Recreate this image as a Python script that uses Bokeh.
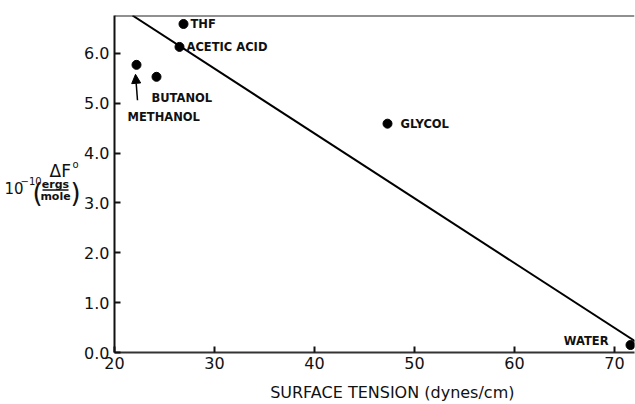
from bokeh.plotting import figure
from bokeh.layouts import row
from bokeh.models import Label, Arrow, NormalHead, Span, Range1d, NumeralTickFormatter, FixedTicker
from bokeh.core.properties import value
from bokeh.embed import file_html
from bokeh.resources import INLINE

# ---- data ----
solvents = ["THF", "ACETIC ACID", "METHANOL", "BUTANOL", "GLYCOL", "WATER"]
surface_tension = [26.9, 26.5, 22.2, 24.2, 47.3, 71.6]
delta_f = [6.59, 6.13, 5.77, 5.53, 4.59, 0.15]
fit_x = [21.8, 72.1]
fit_y = [6.76, 0.22]
x_ticks = [20, 30, 40, 50, 60, 70]
y_ticks = [0, 1, 2, 3, 4, 5, 6]
x_min, x_max = 20, 72.0
y_min, y_max = 0, 6.76
x_title = "SURFACE TENSION (dynes/cm)"

FONT = "DejaVu Sans"
INK = "#111111"
TOP, BOTTOM = 15, 51

# ---------------- main plot ----------------
p = figure(width=554, height=404, output_backend="svg", toolbar_location=None,
           x_range=Range1d(x_min, x_max), y_range=Range1d(y_min, y_max),
           min_border_left=33, min_border_right=1, min_border_top=TOP, min_border_bottom=BOTTOM)
p.outline_line_color = None
p.grid.visible = False

for ax in (p.xaxis[0], p.yaxis[0]):
    ax.axis_line_color = INK
    ax.axis_line_width = 2
    ax.major_tick_in = 6
    ax.major_tick_out = 0
    ax.major_tick_line_width = 2
    ax.major_tick_line_color = INK
    ax.minor_tick_line_color = None
    ax.major_label_text_font = FONT
    ax.major_label_text_font_size = "16px"
    ax.major_label_text_color = INK

p.xaxis[0].ticker = FixedTicker(ticks=x_ticks)
p.yaxis[0].ticker = FixedTicker(ticks=y_ticks)
p.yaxis[0].formatter = NumeralTickFormatter(format="0.0")
p.xaxis[0].major_label_standoff = 4
p.yaxis[0].major_label_standoff = 5
p.xaxis[0].axis_line_color = "#333333"

pad = "\u00a0" * 7
p.xaxis[0].axis_label = pad + x_title
p.xaxis[0].axis_label_text_font = FONT
p.xaxis[0].axis_label_text_font_size = "16px"
p.xaxis[0].axis_label_text_font_style = "normal"
p.xaxis[0].axis_label_text_color = INK
p.xaxis[0].axis_label_standoff = 11

# top frame border
p.add_layout(Span(location=y_max, dimension="width", line_color="#222222", line_width=2))

# fit line
p.line(fit_x, fit_y, line_color="black", line_width=2)

# data points
p.scatter(surface_tension, delta_f, size=9, color="black", marker="circle")

# labels (offsets in screen px relative to each point)
label_style = dict(text_font=FONT, text_font_size="11.5px", text_font_style="bold",
                   text_color=INK, text_baseline="middle")
offsets = {
    "THF": (7, 0, "left"),
    "ACETIC ACID": (7, 0, "left"),
    "BUTANOL": (-5, -21, "left"),
    "METHANOL": (-9, -52, "left"),
    "GLYCOL": (13, 0, "left"),
    "WATER": (-22, 4, "right"),
}
for name, xv, yv in zip(solvents, surface_tension, delta_f):
    dx, dy, al = offsets[name]
    p.add_layout(Label(x=xv, y=yv, x_offset=dx, y_offset=dy, text=name,
                       text_align=al, **label_style))

# arrow for methanol
p.add_layout(Arrow(x_start=22.3, y_start=5.06, x_end=22.1, y_end=5.58,
                   line_width=1.5, line_color="black",
                   end=NormalHead(size=9, fill_color="black", line_color="black")))

# ---------------- y-axis title panel (pixel coordinates, y downward) ----------------
q = figure(width=81, height=404, output_backend="svg", toolbar_location=None,
           x_axis_type=None, y_axis_type=None,
           x_range=Range1d(0, 81), y_range=Range1d(404 - BOTTOM, TOP),
           min_border_left=0, min_border_right=0, min_border_top=TOP, min_border_bottom=BOTTOM)
q.grid.visible = False
q.outline_line_color = None

def txt(x, y, s, size, style="normal", align="left"):
    q.text(x=[x], y=[y], text=[s], text_font=value(FONT), text_font_size=size,
           text_font_style=style, text_color=INK, text_align=align, text_baseline="middle")

txt(49, 171, "ΔF", "17px")
txt(72, 164, "o", "10px")
txt(4, 188, "10", "15px")
txt(20, 181, "\u221210", "10px")
txt(32, 193, "(", "26px")
txt(55, 184, "ergs", "11px", "bold", "center")
txt(55, 197, "mole", "11px", "bold", "center")
txt(70, 193, ")", "26px")
q.line(x=[42, 68], y=[190, 190], line_color=INK, line_width=1.5)

layout = row(q, p, spacing=0)
open("out.html", "w").write(file_html(layout, INLINE))
